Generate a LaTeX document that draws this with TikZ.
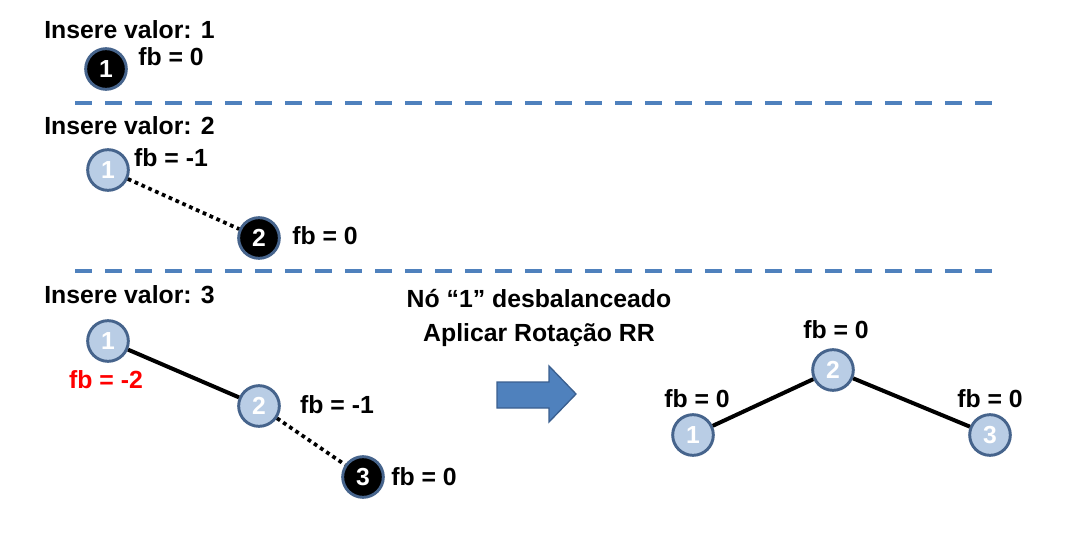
\documentclass[tikz,border=0pt]{standalone}
\usepackage{fontspec}
\setmainfont{Liberation Sans}
\definecolor{sepblue}{HTML}{4F81BD}
\definecolor{nodefill}{HTML}{B9CDE5}
\definecolor{nodeborder}{HTML}{46648C}
\definecolor{arrowborder}{HTML}{3A5F8F}
\begin{document}
\begin{tikzpicture}[x=0.75pt,y=-0.75pt,
  lbl/.style={font=\fontsize{18.6}{22}\selectfont\bfseries, inner sep=0pt},
  avl/.style={circle, minimum size=30.5pt, inner sep=0pt, line width=2.2pt, draw=nodeborder,
    font=\fontsize{18.5}{20}\selectfont\bfseries, text=white},
  lightnode/.style={avl, fill=nodefill},
  darknode/.style={avl, fill=black},
  sep/.style={draw=sepblue, line width=3pt, dash pattern=on 13pt off 9.5pt},
  edge/.style={draw=black, line width=3pt},
  dotedge/.style={draw=black, line width=2.8pt, dash pattern=on 2.8pt off 2.8pt}]
\useasboundingbox (0,0) rectangle (1070,556);
% section 1
\node[lbl, anchor=west] (t1) at (44,30) {Insere valor: 1};
\node[darknode] (a1) at (106,69) {1};
\node[lbl] (fa1) at (171,57) {fb = 0};
\coordinate (s1a) at (75,103);
\coordinate (s1b) at (992,103);
\draw[sep] (s1a) -- (s1b);
% section 2
\node[lbl, anchor=west] (t2) at (44,126) {Insere valor: 2};
\node[lightnode] (b1) at (108,170) {1};
\node[darknode] (b2) at (259,238) {2};
\node[lbl] (fb1) at (171,158) {fb = -1};
\node[lbl] (fb2) at (325,236) {fb = 0};
\draw[dotedge] (b1) -- (b2);
\coordinate (s2a) at (75,271);
\coordinate (s2b) at (992,271);
\draw[sep] (s2a) -- (s2b);
% section 3
\node[lbl, anchor=west] (t3) at (44,295) {Insere valor: 3};
\node[lightnode] (c1) at (108,341) {1};
\node[lightnode] (c2) at (259,406) {2};
\node[darknode] (c3) at (363,477) {3};
\node[lbl, text=red] (fc1) at (106,380) {fb = -2};
\node[lbl] (fc2) at (337,405) {fb = -1};
\node[lbl] (fc3) at (424,477) {fb = 0};
\draw[edge] (c1) -- (c2);
\draw[dotedge] (c2) -- (c3);
% message
\node[lbl, align=center] (msg) at (539,318) {Nó “1” desbalanceado\\[3pt]Aplicar Rotação RR};
% arrow
\draw[fill=sepblue, draw=arrowborder, line width=1pt]
  (497,382) -- (549,382) -- (549,366) -- (576,394) -- (549,422) -- (549,408) -- (497,408) -- cycle;
% rotated tree
\node[lightnode] (d1) at (693,435) {1};
\node[lightnode] (d2) at (833,370) {2};
\node[lightnode] (d3) at (990,435) {3};
\node[lbl] (fd1) at (697,399) {fb = 0};
\node[lbl] (fd2) at (836,330) {fb = 0};
\node[lbl] (fd3) at (990,399) {fb = 0};
\draw[edge] (d1) -- (d2);
\draw[edge] (d2) -- (d3);
\end{tikzpicture}
\end{document}
